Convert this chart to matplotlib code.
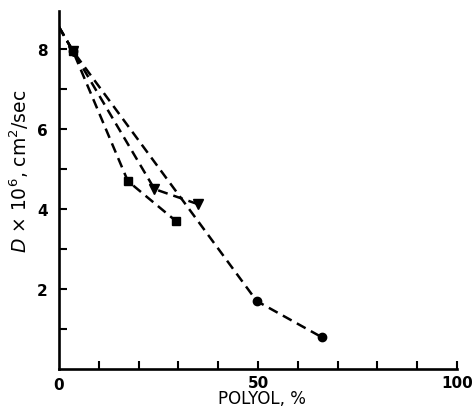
import matplotlib
matplotlib.use("Agg")
import matplotlib.pyplot as plt

# diffusion coefficient vs polyol content, three series
x_sq = [0, 3.5, 17.3, 29.4]
d_sq = [8.55, 7.95, 4.7, 3.7]

x_tri = [0, 3.5, 24, 35]
d_tri = [8.55, 7.95, 4.5, 4.12]

x_circ = [0, 3.5, 49.7, 66]
d_circ = [8.55, 7.95, 1.7, 0.8]

x_ticks = list(range(10, 101, 10))
x_labels = {0: "0", 50: "50", 100: "100"}
y_ticks = list(range(1, 9))
y_labels = {2: "2", 4: "4", 6: "6", 8: "8"}

plt.rcParams['font.family'] = ['DejaVu Sans']

fig = plt.figure(figsize=(4.73, 4.14), dpi=100)
ax = fig.add_axes([0.1247, 0.106, 0.8413, 0.865])

dash = (4, 2.4)
for xs, ys, mk, ms in [(x_sq, d_sq, 's', 6), (x_tri, d_tri, 'v', 6.5), (x_circ, d_circ, 'o', 6)]:
    ax.plot(xs, ys, color='black', lw=1.8, dashes=dash, marker=mk, ms=ms,
            markevery=[1, 2, 3], mfc='black', mec='black')

ax.set_xlim(0, 100)
ax.set_ylim(0, 8.95)
for s in ['top', 'right']:
    ax.spines[s].set_visible(False)
for s in ['left', 'bottom']:
    ax.spines[s].set_linewidth(1.9)

ax.set_xticks(x_ticks)
ax.set_xticklabels([x_labels.get(t, "") for t in x_ticks])
ax.set_yticks(y_ticks)
ax.set_yticklabels([y_labels.get(t, "") for t in y_ticks])
ax.tick_params(direction='in', length=6, width=1.5, labelsize=11, pad=4)
ax.tick_params(axis='y', pad=8)
for lab in ax.get_xticklabels() + ax.get_yticklabels():
    lab.set_fontweight('bold')

# zero label sits at the corner
ax.text(0, -0.2, "0", transform=ax.transData, ha='center', va='top',
        fontsize=11, fontweight='bold')

ax.set_xlabel("POLYOL, %", fontsize=12, va='center')
ax.xaxis.set_label_coords(0.51, -0.08)
ax.set_ylabel(r"$D$ × 10$^6$, cm$^2$/sec", fontsize=13.5, va='center')
ax.yaxis.set_label_coords(-0.1, 0.555)

fig.savefig("out.png", dpi=100)
